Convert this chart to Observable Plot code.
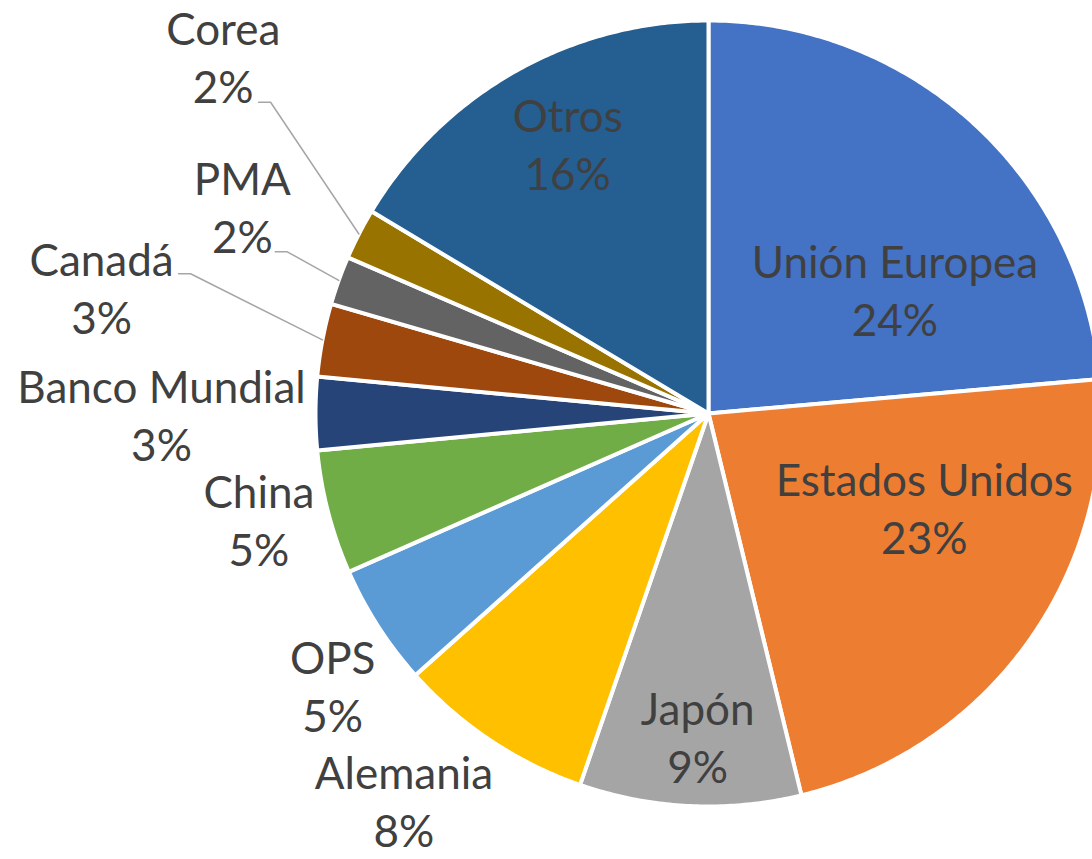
<!DOCTYPE html>
<html>
<head>
<meta charset="utf-8">
<script src="https://cdn.jsdelivr.net/npm/d3@7"></script>
<script src="https://cdn.jsdelivr.net/npm/@observablehq/plot@0.6"></script>
<style>
  body { margin: 0; background: #ffffff; }
  #chart { width: 1092px; height: 859px; overflow: hidden; }
</style>
</head>
<body>
<div id="chart"></div>
<script>
// ---- data ----
const categories = ["Unión Europea", "Estados Unidos", "Japón", "Alemania", "OPS", "China", "Banco Mundial", "Canadá", "PMA", "Corea", "Otros"];
const shares = [23.6, 22.6, 9.1, 8.1, 5.0, 5.1, 3.0, 3.0, 2.0, 2.1, 16.4];
const colors = ["#4472C4", "#ED7D31", "#A5A5A5", "#FFC000", "#5B9BD5", "#70AD47", "#264478", "#9E480E", "#636363", "#997300", "#255E91"];

// ---- layout (label placement: [radius factor, angle in degrees clockwise from 12 o'clock]) ----
const labelLayout = [
  [0.568, 57.1], [0.605, 114.2], [0.835, 181.9], [1.265, 218.0], [1.191, 233.8],
  [1.183, 256.4], [1.399, 269.6], [1.584, 281.5], [1.301, 293.6], [1.536, 306.1], [0.772, 332.2]
];
// leader line elbows for outside labels with connectors: [radius factor, angle]
const leaderElbows = { "Canadá": [1.372, 285.1], "PMA": [1.154, 291.0], "Corea": [1.374, 305.4] };

const R = 391;          // visible radius in px units
const cx = 708, cy = 413, W = 1092, H = 859;

const arcs = d3.pie().sort(null).value(d => d)(shares);
const polar = (r, a) => ({ x: r * Math.sin(a), y: r * Math.cos(a) });
const rad = d => d * Math.PI / 180;

// slice polygons
const slicePts = [];
arcs.forEach((a, i) => {
  const name = categories[i];
  slicePts.push({ name, x: 0, y: 0 });
  const n = Math.max(2, Math.ceil((a.endAngle - a.startAngle) / rad(0.5)));
  for (let k = 0; k <= n; k++) {
    const t = a.startAngle + (a.endAngle - a.startAngle) * k / n;
    slicePts.push({ name, ...polar(R + 2, t) });
  }
  slicePts.push({ name, x: 0, y: 0 });
});

// labels
const labels = categories.map((name, i) => {
  const [f, deg] = labelLayout[i];
  return { name, text: `${name}\n${Math.round(shares[i])}%`, ...polar(f * R, rad(deg)) };
});

// leader lines
const leaderPts = [];
arcs.forEach((a, i) => {
  const name = categories[i];
  if (!leaderElbows[name]) return;
  const mid = (a.startAngle + a.endAngle) / 2;
  const [f, deg] = leaderElbows[name];
  const e = polar(f * R, rad(deg));
  leaderPts.push({ name, ...polar(R + 2, mid) });
  leaderPts.push({ name, ...e });
  leaderPts.push({ name, x: e.x - 12, y: e.y });
});

const chart = Plot.plot({
  width: W,
  height: H,
  margin: 0,
  x: { domain: [-cx, W - cx], axis: null },
  y: { domain: [-(H - cy), cy], axis: null },
  color: { domain: categories, range: colors },
  marks: [
    Plot.line(slicePts, { x: "x", y: "y", z: "name", fill: "name", stroke: "white", strokeWidth: 4, strokeLinejoin: "round", curve: "linear" }),
    Plot.line(leaderPts, { x: "x", y: "y", z: "name", stroke: "#A6A6A6", strokeWidth: 1.5, curve: "linear" }),
    Plot.text(labels, { x: "x", y: "y", text: "text", dy: -4, fontSize: 44, fontFamily: "Lato", fill: "#404040", lineHeight: 1.32 })
  ]
});
document.getElementById("chart").appendChild(chart);
</script>
</body>
</html>
